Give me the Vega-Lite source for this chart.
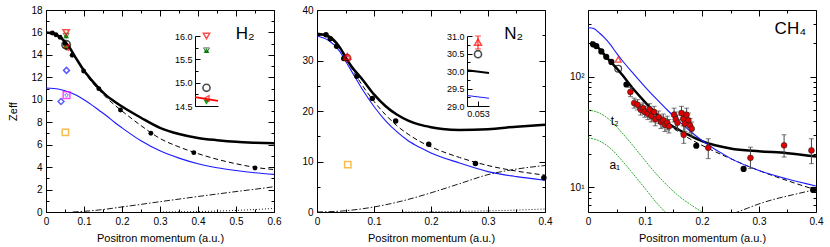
{
"$schema": "https://vega.github.io/schema/vega-lite/v6.json",
"padding": {"left": 7, "top": 4, "right": 5, "bottom": 2},
"bounds": "flush",
"spacing": 43,
"resolve": {"scale": {"x": "independent", "y": "independent"}},
"config": {
  "view": {"stroke": "black", "strokeWidth": 1},
  "font": "Liberation Sans",
  "axis": {"domain": false, "grid": false, "labelFont": "Liberation Sans", "labelFontSize": 10, "labelColor": "black", "tickColor": "black", "tickWidth": 1, "titleFont": "Liberation Sans", "titleFontSize": 11, "titleFontWeight": "normal", "titleColor": "black", "labelFlush": false, "labelOverlap": false, "labelBound": false}
},
"datasets": {
"h2": [
{"s":"thick","x":0,"y":16.0},{"s":"thick","x":0.02,"y":15.9},{"s":"thick","x":0.04,"y":15.5},{"s":"thick","x":0.06,"y":14.75},{"s":"thick","x":0.08,"y":13.65},{"s":"thick","x":0.1,"y":12.6},{"s":"thick","x":0.12,"y":11.75},{"s":"thick","x":0.14,"y":11.0},{"s":"thick","x":0.16,"y":10.35},{"s":"thick","x":0.18,"y":9.85},{"s":"thick","x":0.2,"y":9.4},{"s":"thick","x":0.25,"y":8.4},{"s":"thick","x":0.3,"y":7.5},{"s":"thick","x":0.35,"y":6.95},{"s":"thick","x":0.4,"y":6.6},{"s":"thick","x":0.45,"y":6.4},{"s":"thick","x":0.5,"y":6.25},{"s":"thick","x":0.55,"y":6.17},{"s":"thick","x":0.6,"y":6.12},
{"s":"dashed","x":0,"y":16.0},{"s":"dashed","x":0.02,"y":15.9},{"s":"dashed","x":0.04,"y":15.5},{"s":"dashed","x":0.06,"y":14.7},{"s":"dashed","x":0.08,"y":13.6},{"s":"dashed","x":0.1,"y":12.5},{"s":"dashed","x":0.12,"y":11.6},{"s":"dashed","x":0.14,"y":10.85},{"s":"dashed","x":0.16,"y":10.15},{"s":"dashed","x":0.18,"y":9.55},{"s":"dashed","x":0.2,"y":9.0},{"s":"dashed","x":0.25,"y":7.7},{"s":"dashed","x":0.3,"y":6.55},{"s":"dashed","x":0.35,"y":5.8},{"s":"dashed","x":0.4,"y":5.2},{"s":"dashed","x":0.45,"y":4.7},{"s":"dashed","x":0.5,"y":4.3},{"s":"dashed","x":0.55,"y":3.98},{"s":"dashed","x":0.6,"y":3.78},
{"s":"blue","x":0,"y":11.05},{"s":"blue","x":0.02,"y":11.0},{"s":"blue","x":0.04,"y":10.9},{"s":"blue","x":0.06,"y":10.7},{"s":"blue","x":0.08,"y":10.4},{"s":"blue","x":0.1,"y":10.0},{"s":"blue","x":0.12,"y":9.55},{"s":"blue","x":0.14,"y":9.05},{"s":"blue","x":0.16,"y":8.55},{"s":"blue","x":0.18,"y":8.0},{"s":"blue","x":0.2,"y":7.5},{"s":"blue","x":0.25,"y":6.35},{"s":"blue","x":0.3,"y":5.45},{"s":"blue","x":0.35,"y":4.8},{"s":"blue","x":0.4,"y":4.3},{"s":"blue","x":0.45,"y":3.95},{"s":"blue","x":0.5,"y":3.7},{"s":"blue","x":0.55,"y":3.5},{"s":"blue","x":0.6,"y":3.35},
{"s":"dd","x":0.07,"y":0},{"s":"dd","x":0.1,"y":0.06},{"s":"dd","x":0.15,"y":0.22},{"s":"dd","x":0.2,"y":0.45},{"s":"dd","x":0.25,"y":0.68},{"s":"dd","x":0.3,"y":0.92},{"s":"dd","x":0.35,"y":1.15},{"s":"dd","x":0.4,"y":1.38},{"s":"dd","x":0.45,"y":1.6},{"s":"dd","x":0.5,"y":1.82},{"s":"dd","x":0.55,"y":2.03},{"s":"dd","x":0.6,"y":2.25},
{"s":"dot","x":0.3,"y":0},{"s":"dot","x":0.4,"y":0.04},{"s":"dot","x":0.45,"y":0.08},{"s":"dot","x":0.5,"y":0.14},{"s":"dot","x":0.55,"y":0.22},{"s":"dot","x":0.6,"y":0.32},
{"s":"exp","x":0.0167,"y":15.95},{"s":"exp","x":0.026,"y":15.8},{"s":"exp","x":0.037,"y":15.57},{"s":"exp","x":0.05,"y":15.0},{"s":"exp","x":0.069,"y":13.97},{"s":"exp","x":0.099,"y":12.57},{"s":"exp","x":0.139,"y":10.99},{"s":"exp","x":0.196,"y":9.09},{"s":"exp","x":0.276,"y":7.02},{"s":"exp","x":0.389,"y":5.29},{"s":"exp","x":0.55,"y":3.92},
{"s":"circ","x":0.053,"y":14.9},
{"s":"rtri","x":0.053,"y":16.0},
{"s":"gstar","x":0.053,"y":15.7},
{"s":"gtri","x":0.053,"y":14.58},
{"s":"rtril","x":0.053,"y":14.66},
{"s":"diam","x":0.054,"y":12.62},{"s":"diam","x":0.0395,"y":9.85},
{"s":"mag","x":0.054,"y":10.42},
{"s":"orange","x":0.051,"y":7.1},
{"s":"label","x":0.524,"y":15.9,"t":"H₂"},
{"s":"i_red","x":0.050,"y":14.69},{"s":"i_red","x":0.056,"y":14.61},
{"s":"i_rtri","x":0.053,"y":16.0},
{"s":"i_gstar","x":0.053,"y":15.69},
{"s":"i_circ","x":0.053,"y":14.89},
{"s":"i_rtril","x":0.053,"y":14.66},
{"s":"i_gtri","x":0.053,"y":14.58}
],
"n2": [
{"s":"thick","x":0,"y":35.3},{"s":"thick","x":0.02,"y":34.8},{"s":"thick","x":0.04,"y":32.6},{"s":"thick","x":0.05,"y":30.7},{"s":"thick","x":0.06,"y":28.9},{"s":"thick","x":0.08,"y":26.2},{"s":"thick","x":0.1,"y":23.3},{"s":"thick","x":0.12,"y":21.0},{"s":"thick","x":0.14,"y":19.3},{"s":"thick","x":0.16,"y":18.1},{"s":"thick","x":0.18,"y":17.3},{"s":"thick","x":0.2,"y":16.8},{"s":"thick","x":0.22,"y":16.45},{"s":"thick","x":0.25,"y":16.25},{"s":"thick","x":0.3,"y":16.4},{"s":"thick","x":0.35,"y":16.9},{"s":"thick","x":0.4,"y":17.3},
{"s":"dashed","x":0,"y":35.2},{"s":"dashed","x":0.02,"y":34.6},{"s":"dashed","x":0.04,"y":32.4},{"s":"dashed","x":0.05,"y":30.5},{"s":"dashed","x":0.06,"y":28.6},{"s":"dashed","x":0.08,"y":25.0},{"s":"dashed","x":0.1,"y":21.9},{"s":"dashed","x":0.12,"y":19.3},{"s":"dashed","x":0.14,"y":17.1},{"s":"dashed","x":0.16,"y":15.4},{"s":"dashed","x":0.18,"y":14.0},{"s":"dashed","x":0.2,"y":12.9},{"s":"dashed","x":0.25,"y":10.8},{"s":"dashed","x":0.3,"y":9.2},{"s":"dashed","x":0.35,"y":8.1},{"s":"dashed","x":0.4,"y":7.3},
{"s":"blue","x":0,"y":34.8},{"s":"blue","x":0.02,"y":34.0},{"s":"blue","x":0.04,"y":31.8},{"s":"blue","x":0.05,"y":29.9},{"s":"blue","x":0.06,"y":28.0},{"s":"blue","x":0.08,"y":24.2},{"s":"blue","x":0.1,"y":20.9},{"s":"blue","x":0.12,"y":18.1},{"s":"blue","x":0.14,"y":15.9},{"s":"blue","x":0.16,"y":14.1},{"s":"blue","x":0.18,"y":12.8},{"s":"blue","x":0.2,"y":11.7},{"s":"blue","x":0.25,"y":9.7},{"s":"blue","x":0.3,"y":8.0},{"s":"blue","x":0.35,"y":7.0},{"s":"blue","x":0.4,"y":6.3},
{"s":"dd","x":0,"y":0},{"s":"dd","x":0.05,"y":0.25},{"s":"dd","x":0.1,"y":1.0},{"s":"dd","x":0.15,"y":2.2},{"s":"dd","x":0.2,"y":3.8},{"s":"dd","x":0.25,"y":5.6},{"s":"dd","x":0.3,"y":7.4},{"s":"dd","x":0.35,"y":8.5},{"s":"dd","x":0.4,"y":9.2},
{"s":"dot","x":0.15,"y":0},{"s":"dot","x":0.2,"y":0.05},{"s":"dot","x":0.25,"y":0.12},{"s":"dot","x":0.3,"y":0.22},{"s":"dot","x":0.35,"y":0.38},{"s":"dot","x":0.4,"y":0.6},
{"s":"exp","x":0.0158,"y":35.1},{"s":"exp","x":0.0234,"y":34.3},{"s":"exp","x":0.0345,"y":32.8},{"s":"exp","x":0.047,"y":30.4},{"s":"exp","x":0.07,"y":26.9},{"s":"exp","x":0.097,"y":22.5},{"s":"exp","x":0.138,"y":18.0},{"s":"exp","x":0.196,"y":13.4},{"s":"exp","x":0.278,"y":9.6},{"s":"exp","x":0.398,"y":6.8},
{"s":"circ","x":0.053,"y":30.5},
{"s":"rtri","x":0.053,"y":30.8,"lo":30.63,"hi":31.0},
{"s":"orange","x":0.054,"y":9.37},
{"s":"label","x":0.345,"y":35.2,"t":"N₂"},
{"s":"i_thick","x":0.050,"y":30.02},{"s":"i_thick","x":0.056,"y":29.94},
{"s":"i_blue","x":0.050,"y":29.30},{"s":"i_blue","x":0.056,"y":29.22},
{"s":"i_rtri","x":0.053,"y":30.82,"lo":30.63,"hi":31.0},
{"s":"i_circ","x":0.053,"y":30.48}
],
"ch4": [
{"s":"thick","x":0.005,"y":205},{"s":"thick","x":0.01,"y":198},{"s":"thick","x":0.02,"y":178},{"s":"thick","x":0.03,"y":155},{"s":"thick","x":0.04,"y":136},{"s":"thick","x":0.053,"y":115},{"s":"thick","x":0.06,"y":104},{"s":"thick","x":0.08,"y":77},{"s":"thick","x":0.1,"y":59},{"s":"thick","x":0.12,"y":46},{"s":"thick","x":0.14,"y":38},{"s":"thick","x":0.16,"y":33},{"s":"thick","x":0.18,"y":29.2},{"s":"thick","x":0.2,"y":26.2},{"s":"thick","x":0.25,"y":22.5},{"s":"thick","x":0.3,"y":21.2},{"s":"thick","x":0.35,"y":20.4},{"s":"thick","x":0.4,"y":19.0},
{"s":"dashed","x":0.005,"y":205},{"s":"dashed","x":0.02,"y":178},{"s":"dashed","x":0.04,"y":136},{"s":"dashed","x":0.06,"y":104},{"s":"dashed","x":0.08,"y":77},{"s":"dashed","x":0.1,"y":59},{"s":"dashed","x":0.12,"y":46},{"s":"dashed","x":0.14,"y":37.5},{"s":"dashed","x":0.16,"y":31.5},{"s":"dashed","x":0.18,"y":27.2},{"s":"dashed","x":0.2,"y":24.0},{"s":"dashed","x":0.25,"y":18.2},{"s":"dashed","x":0.3,"y":14.2},{"s":"dashed","x":0.35,"y":11.5},{"s":"dashed","x":0.4,"y":9.5},
{"s":"blue","x":0,"y":277},{"s":"blue","x":0.01,"y":272},{"s":"blue","x":0.02,"y":248},{"s":"blue","x":0.03,"y":222},{"s":"blue","x":0.04,"y":193},{"s":"blue","x":0.05,"y":163},{"s":"blue","x":0.06,"y":140},{"s":"blue","x":0.08,"y":106},{"s":"blue","x":0.1,"y":81},{"s":"blue","x":0.12,"y":63},{"s":"blue","x":0.14,"y":49.5},{"s":"blue","x":0.16,"y":39.5},{"s":"blue","x":0.18,"y":32},{"s":"blue","x":0.2,"y":26.5},{"s":"blue","x":0.25,"y":18.3},{"s":"blue","x":0.3,"y":14.2},{"s":"blue","x":0.35,"y":11.9},{"s":"blue","x":0.4,"y":10.3},
{"s":"t2","x":0,"y":50},{"s":"t2","x":0.02,"y":47},{"s":"t2","x":0.04,"y":40},{"s":"t2","x":0.06,"y":31},{"s":"t2","x":0.08,"y":23.5},{"s":"t2","x":0.1,"y":17.5},{"s":"t2","x":0.12,"y":13.2},{"s":"t2","x":0.14,"y":10.3},{"s":"t2","x":0.16,"y":8.3},{"s":"t2","x":0.18,"y":7.0},{"s":"t2","x":0.2,"y":6.0},{"s":"t2","x":0.21,"y":5.6},
{"s":"a1","x":0,"y":28},{"s":"a1","x":0.02,"y":26.3},{"s":"a1","x":0.04,"y":22.4},{"s":"a1","x":0.06,"y":17.4},{"s":"a1","x":0.08,"y":13.1},{"s":"a1","x":0.1,"y":9.8},{"s":"a1","x":0.12,"y":7.3},{"s":"a1","x":0.13,"y":6.4},{"s":"a1","x":0.14,"y":5.7},
{"s":"dd","x":0.255,"y":5.8},{"s":"dd","x":0.28,"y":6.5},{"s":"dd","x":0.3,"y":7.1},{"s":"dd","x":0.33,"y":7.9},{"s":"dd","x":0.36,"y":8.6},{"s":"dd","x":0.4,"y":9.6},
{"s":"exp","x":0.0088,"y":196},{"s":"exp","x":0.0146,"y":189},{"s":"exp","x":0.0234,"y":169},{"s":"exp","x":0.032,"y":151},{"s":"exp","x":0.041,"y":136},{"s":"exp","x":0.0674,"y":85},{"s":"exp","x":0.19,"y":23.8},{"s":"exp","x":0.273,"y":14.7},{"s":"exp","x":0.395,"y":9.5},
{"s":"circ","x":0.053,"y":118},
{"s":"rtri","x":0.053,"y":143},
{"s":"red","x":0.0744,"y":72.8,"lo":66,"hi":80},{"s":"red","x":0.081,"y":57.8,"lo":52,"hi":64},{"s":"red","x":0.087,"y":55.8,"lo":50,"hi":62},{"s":"red","x":0.0926,"y":50.3,"lo":45,"hi":56},{"s":"red","x":0.0966,"y":52,"lo":47,"hi":58},{"s":"red","x":0.0996,"y":48,"lo":43,"hi":54},{"s":"red","x":0.105,"y":46.3,"lo":41,"hi":52},{"s":"red","x":0.108,"y":50.7,"lo":45,"hi":57},{"s":"red","x":0.111,"y":44.1,"lo":39,"hi":50},{"s":"red","x":0.116,"y":48,"lo":42,"hi":54},{"s":"red","x":0.118,"y":41.2,"lo":36,"hi":47},{"s":"red","x":0.124,"y":43.2,"lo":38,"hi":49},{"s":"red","x":0.128,"y":38.9,"lo":34,"hi":44},{"s":"red","x":0.132,"y":40.4,"lo":35,"hi":46},{"s":"red","x":0.135,"y":36.8,"lo":32,"hi":42},{"s":"red","x":0.139,"y":38.4,"lo":33,"hi":44},{"s":"red","x":0.142,"y":35.6,"lo":31,"hi":41},{"s":"red","x":0.151,"y":45.3,"lo":39,"hi":52},{"s":"red","x":0.154,"y":41.2,"lo":35,"hi":48},{"s":"red","x":0.157,"y":38.4,"lo":33,"hi":45},{"s":"red","x":0.164,"y":47,"lo":41,"hi":54},{"s":"red","x":0.167,"y":41.7,"lo":36,"hi":48},{"s":"red","x":0.17,"y":37.6,"lo":32,"hi":44},{"s":"red","x":0.173,"y":45.3,"lo":39,"hi":52},{"s":"red","x":0.176,"y":40.4,"lo":35,"hi":47},{"s":"red","x":0.179,"y":36.3,"lo":31,"hi":42},{"s":"red","x":0.182,"y":33.9,"lo":29,"hi":39},{"s":"red","x":0.168,"y":29.9,"lo":25,"hi":36},{"s":"red","x":0.211,"y":22.8,"lo":18.2,"hi":27.5},{"s":"red","x":0.285,"y":18.5,"lo":14.8,"hi":23.1},{"s":"red","x":0.344,"y":24,"lo":18.8,"hi":29.9},{"s":"red","x":0.392,"y":21.6,"lo":16.4,"hi":27.5},
{"s":"label","x":0.355,"y":270,"t":"CH₄"},
{"s":"small","x":0.047,"y":40,"t":"t₂"},{"s":"small","x":0.047,"y":15.8,"t":"a₁"}
]
},
"hconcat": [
{
 "width": 228, "height": 202,
 "data": {"name": "h2"},
 "resolve": {"scale": {"x": "independent", "y": "independent"}},
 "layer": [
  {
   "resolve": {"axis": {"x": "independent", "y": "independent"}},
   "encoding": {
     "x": {"field": "x", "type": "quantitative", "scale": {"domain": [0, 0.6], "nice": false, "zero": false}, "axis": null},
     "y": {"field": "y", "type": "quantitative", "scale": {"domain": [0, 18], "nice": false, "zero": false}, "axis": null}
   },
   "layer": [
    {"transform": [{"filter": "datum.s=='thick'"}], "mark": {"type": "line", "color": "black", "strokeWidth": 2.5, "interpolate": "monotone", "clip": true},
     "encoding": {
       "x": {"field": "x", "type": "quantitative", "scale": {"domain": [0, 0.6], "nice": false, "zero": false},
             "axis": {"orient": "bottom", "values": [0,0.05,0.1,0.15,0.2,0.25,0.3,0.35,0.4,0.45,0.5,0.55,0.6], "labelExpr": "abs(datum.value*10-round(datum.value*10))<0.001 ? format(datum.value,'~g') : ''", "tickSize": {"condition": {"test": "abs(datum.value*10-round(datum.value*10))<0.001", "value": -6}, "value": -3}, "labelPadding": 10, "title": "Positron momentum (a.u.)", "titlePadding": 3}},
       "y": {"field": "y", "type": "quantitative", "scale": {"domain": [0, 18], "nice": false, "zero": false},
             "axis": {"orient": "left", "values": [0,1,2,3,4,5,6,7,8,9,10,11,12,13,14,15,16,17,18], "labelExpr": "datum.value%2==0 ? format(datum.value,'d') : ''", "tickSize": {"condition": {"test": "datum.value%2==0", "value": -6}, "value": -3}, "labelPadding": 10, "title": "Zeff", "titlePadding": 12}}
     }},
    {"transform": [{"filter": "datum.s=='dashed'"}], "mark": {"type": "line", "color": "black", "strokeWidth": 1, "strokeDash": [5, 3], "interpolate": "monotone", "clip": true},
     "encoding": {
       "x": {"field": "x", "type": "quantitative", "scale": {"domain": [0, 0.6], "nice": false, "zero": false},
             "axis": {"orient": "top", "values": [0,0.05,0.1,0.15,0.2,0.25,0.3,0.35,0.4,0.45,0.5,0.55,0.6], "labels": false, "tickSize": {"condition": {"test": "abs(datum.value*10-round(datum.value*10))<0.001", "value": -6}, "value": -3}, "title": null}},
       "y": {"field": "y", "type": "quantitative", "scale": {"domain": [0, 18], "nice": false, "zero": false},
             "axis": {"orient": "right", "values": [0,1,2,3,4,5,6,7,8,9,10,11,12,13,14,15,16,17,18], "labels": false, "tickSize": {"condition": {"test": "datum.value%2==0", "value": -6}, "value": -3}, "title": null}}
     }},
    {"transform": [{"filter": "datum.s=='blue'"}], "mark": {"type": "line", "color": "#1a1aff", "strokeWidth": 1.1, "interpolate": "monotone", "clip": true}},
    {"transform": [{"filter": "datum.s=='dd'"}], "mark": {"type": "line", "color": "black", "strokeWidth": 0.9, "strokeDash": [6, 2, 1.5, 2], "interpolate": "monotone", "clip": true}},
    {"transform": [{"filter": "datum.s=='dot'"}], "mark": {"type": "line", "color": "black", "strokeWidth": 0.9, "strokeDash": [1, 2], "interpolate": "monotone", "clip": true}},
    {"transform": [{"filter": "datum.s=='diam'"}], "mark": {"type": "point", "shape": "diamond", "filled": false, "color": "#1a1aff", "strokeWidth": 1.5, "size": 35}},
    {"transform": [{"filter": "datum.s=='mag'"}], "mark": {"type": "point", "shape": "square", "filled": false, "color": "#ff00ff", "strokeWidth": 1.5, "size": 45}},
    {"transform": [{"filter": "datum.s=='mag'"}], "mark": {"type": "point", "shape": "diamond", "filled": false, "color": "#1a1aff", "strokeWidth": 1, "size": 14}},
    {"transform": [{"filter": "datum.s=='orange'"}], "mark": {"type": "point", "shape": "square", "filled": false, "color": "#f5a000", "strokeWidth": 1.5, "size": 40}},
    {"transform": [{"filter": "datum.s=='exp'"}], "mark": {"type": "circle", "color": "black", "opacity": 1, "size": 24}},
    {"transform": [{"filter": "datum.s=='gtri'"}], "mark": {"type": "point", "shape": "triangle-down", "filled": true, "color": "#1a9a1a", "opacity": 1, "size": 35}},
    {"transform": [{"filter": "datum.s=='rtril'"}], "mark": {"type": "point", "shape": "triangle-left", "filled": false, "color": "red", "strokeWidth": 1.3, "size": 35}},
    {"transform": [{"filter": "datum.s=='circ'"}], "mark": {"type": "point", "shape": "circle", "filled": false, "color": "black", "strokeWidth": 1.6, "size": 70}},
    {"transform": [{"filter": "datum.s=='gstar'"}], "mark": {"type": "point", "shape": "triangle-up", "filled": true, "color": "#1a9a1a", "opacity": 1, "size": 35}},
    {"transform": [{"filter": "datum.s=='gstar'"}], "mark": {"type": "point", "shape": "triangle-down", "filled": false, "color": "#0a5a0a", "strokeWidth": 1, "size": 35}},
    {"transform": [{"filter": "datum.s=='rtri'"}], "mark": {"type": "point", "shape": "triangle-down", "filled": false, "color": "red", "strokeWidth": 1.5, "size": 40}},
    {"transform": [{"filter": "datum.s=='label'"}], "mark": {"type": "text", "font": "Liberation Sans", "fontSize": 17, "color": "black", "align": "center", "baseline": "middle"}, "encoding": {"text": {"field": "t"}}}
   ]
  },
  {
   "resolve": {"axis": {"x": "independent", "y": "independent"}},
   "encoding": {
     "x": {"field": "x", "type": "quantitative", "scale": {"domain": [0.05, 0.056], "range": [149, 172], "nice": false, "zero": false}, "axis": null},
     "y": {"field": "y", "type": "quantitative", "scale": {"domain": [14.5, 16.0], "range": [96, 26], "nice": false, "zero": false}, "axis": null}
   },
   "layer": [
    {"transform": [{"filter": "datum.s=='i_red'"}], "mark": {"type": "line", "color": "red", "strokeWidth": 1.6},
     "encoding": {
       "x": {"field": "x", "type": "quantitative", "scale": {"domain": [0.05, 0.056], "range": [149, 172], "nice": false, "zero": false},
             "axis": {"orient": "bottom", "offset": -106, "domain": true, "domainColor": "black", "domainWidth": 1, "ticks": false, "labels": false, "title": null}},
       "y": {"field": "y", "type": "quantitative", "scale": {"domain": [14.5, 16.0], "range": [96, 26], "nice": false, "zero": false},
             "axis": {"orient": "left", "offset": -149, "domain": true, "domainColor": "black", "domainWidth": 1, "values": [14.5,14.75,15,15.25,15.5,15.75,16], "labelExpr": "datum.value*2==round(datum.value*2) ? format(datum.value,'.1f') : ''", "tickSize": {"condition": {"test": "datum.value*2==round(datum.value*2)", "value": -5}, "value": -3}, "labelPadding": 8, "labelFontSize": 9, "title": null}}
     }},
    {"transform": [{"filter": "datum.s=='i_gtri'"}], "mark": {"type": "point", "shape": "triangle-down", "filled": true, "color": "#1a9a1a", "opacity": 1, "size": 35}},
    {"transform": [{"filter": "datum.s=='i_rtril'"}], "mark": {"type": "point", "shape": "triangle-left", "filled": false, "color": "red", "strokeWidth": 1.3, "size": 35}},
    {"transform": [{"filter": "datum.s=='i_circ'"}], "mark": {"type": "point", "shape": "circle", "filled": false, "color": "black", "strokeWidth": 1.6, "size": 50}},
    {"transform": [{"filter": "datum.s=='i_gstar'"}], "mark": {"type": "point", "shape": "triangle-up", "filled": true, "color": "#1a9a1a", "opacity": 1, "size": 35}},
    {"transform": [{"filter": "datum.s=='i_gstar'"}], "mark": {"type": "point", "shape": "triangle-down", "filled": false, "color": "#0a3a0a", "strokeWidth": 1, "size": 35}},
    {"transform": [{"filter": "datum.s=='i_rtri'"}], "mark": {"type": "point", "shape": "triangle-down", "filled": false, "color": "red", "strokeWidth": 1.5, "size": 40}}
   ]
  }
 ]
},
{
 "width": 228, "height": 202,
 "data": {"name": "n2"},
 "resolve": {"scale": {"x": "independent", "y": "independent"}},
 "layer": [
  {
   "resolve": {"axis": {"x": "independent", "y": "independent"}},
   "encoding": {
     "x": {"field": "x", "type": "quantitative", "scale": {"domain": [0, 0.4], "nice": false, "zero": false}, "axis": null},
     "y": {"field": "y", "type": "quantitative", "scale": {"domain": [0, 40], "nice": false, "zero": false}, "axis": null}
   },
   "layer": [
    {"transform": [{"filter": "datum.s=='thick'"}], "mark": {"type": "line", "color": "black", "strokeWidth": 2.5, "interpolate": "monotone", "clip": true},
     "encoding": {
       "x": {"field": "x", "type": "quantitative", "scale": {"domain": [0, 0.4], "nice": false, "zero": false},
             "axis": {"orient": "bottom", "values": [0,0.05,0.1,0.15,0.2,0.25,0.3,0.35,0.4], "labelExpr": "abs(datum.value*10-round(datum.value*10))<0.001 ? format(datum.value,'~g') : ''", "tickSize": {"condition": {"test": "abs(datum.value*10-round(datum.value*10))<0.001", "value": -6}, "value": -3}, "labelPadding": 10, "title": "Positron momentum (a.u.)", "titlePadding": 3}},
       "y": {"field": "y", "type": "quantitative", "scale": {"domain": [0, 40], "nice": false, "zero": false},
             "axis": {"orient": "left", "values": [0,5,10,15,20,25,30,35,40], "labelExpr": "datum.value%10==0 ? format(datum.value,'d') : ''", "tickSize": {"condition": {"test": "datum.value%10==0", "value": -6}, "value": -3}, "labelPadding": 10, "title": null}}
     }},
    {"transform": [{"filter": "datum.s=='dashed'"}], "mark": {"type": "line", "color": "black", "strokeWidth": 1, "strokeDash": [5, 3], "interpolate": "monotone", "clip": true},
     "encoding": {
       "x": {"field": "x", "type": "quantitative", "scale": {"domain": [0, 0.4], "nice": false, "zero": false},
             "axis": {"orient": "top", "values": [0,0.05,0.1,0.15,0.2,0.25,0.3,0.35,0.4], "labels": false, "tickSize": {"condition": {"test": "abs(datum.value*10-round(datum.value*10))<0.001", "value": -6}, "value": -3}, "title": null}},
       "y": {"field": "y", "type": "quantitative", "scale": {"domain": [0, 40], "nice": false, "zero": false},
             "axis": {"orient": "right", "values": [0,5,10,15,20,25,30,35,40], "labels": false, "tickSize": {"condition": {"test": "datum.value%10==0", "value": -6}, "value": -3}, "title": null}}
     }},
    {"transform": [{"filter": "datum.s=='blue'"}], "mark": {"type": "line", "color": "#1a1aff", "strokeWidth": 1.1, "interpolate": "monotone", "clip": true}},
    {"transform": [{"filter": "datum.s=='dd'"}], "mark": {"type": "line", "color": "black", "strokeWidth": 0.9, "strokeDash": [6, 2, 1.5, 2], "interpolate": "monotone", "clip": true}},
    {"transform": [{"filter": "datum.s=='dot'"}], "mark": {"type": "line", "color": "black", "strokeWidth": 0.9, "strokeDash": [1, 2], "interpolate": "monotone", "clip": true}},
    {"transform": [{"filter": "datum.s=='orange'"}], "mark": {"type": "point", "shape": "square", "filled": false, "color": "#f5a000", "strokeWidth": 1.5, "size": 40}},
    {"transform": [{"filter": "datum.s=='exp'"}], "mark": {"type": "circle", "color": "black", "opacity": 1, "size": 30}},
    {"transform": [{"filter": "datum.s=='rtri'"}], "mark": {"type": "rule", "color": "red", "strokeWidth": 1}, "encoding": {"y": {"field": "lo", "type": "quantitative"}, "y2": {"field": "hi"}}},
    {"transform": [{"filter": "datum.s=='rtri'"}], "mark": {"type": "point", "shape": "triangle-up", "filled": false, "color": "red", "strokeWidth": 1.5, "size": 45}},
    {"transform": [{"filter": "datum.s=='circ'"}], "mark": {"type": "point", "shape": "circle", "filled": false, "color": "#b00000", "strokeWidth": 1.6, "size": 50}},
    {"transform": [{"filter": "datum.s=='label'"}], "mark": {"type": "text", "font": "Liberation Sans", "fontSize": 17, "color": "black", "align": "center", "baseline": "middle"}, "encoding": {"text": {"field": "t"}}}
   ]
  },
  {
   "resolve": {"axis": {"x": "independent", "y": "independent"}},
   "encoding": {
     "x": {"field": "x", "type": "quantitative", "scale": {"domain": [0.05, 0.056], "range": [150, 172], "nice": false, "zero": false}, "axis": null},
     "y": {"field": "y", "type": "quantitative", "scale": {"domain": [29, 31], "range": [96, 26], "nice": false, "zero": false}, "axis": null}
   },
   "layer": [
    {"transform": [{"filter": "datum.s=='i_thick'"}], "mark": {"type": "line", "color": "black", "strokeWidth": 2},
     "encoding": {
       "x": {"field": "x", "type": "quantitative", "scale": {"domain": [0.05, 0.056], "range": [150, 172], "nice": false, "zero": false},
             "axis": {"orient": "bottom", "offset": -106, "domain": true, "domainColor": "black", "domainWidth": 1, "values": [0.053], "format": ".3f", "tickSize": -5, "labelPadding": 8, "labelFontSize": 9, "title": null}},
       "y": {"field": "y", "type": "quantitative", "scale": {"domain": [29, 31], "range": [96, 26], "nice": false, "zero": false},
             "axis": {"orient": "left", "offset": -150, "domain": true, "domainColor": "black", "domainWidth": 1, "values": [29,29.25,29.5,29.75,30,30.25,30.5,30.75,31], "labelExpr": "datum.value*2==round(datum.value*2) ? format(datum.value,'.1f') : ''", "tickSize": {"condition": {"test": "datum.value*2==round(datum.value*2)", "value": -5}, "value": -3}, "labelPadding": 8, "labelFontSize": 9, "title": null}}
     }},
    {"transform": [{"filter": "datum.s=='i_blue'"}], "mark": {"type": "line", "color": "#1a1aff", "strokeWidth": 1.1}},
    {"transform": [{"filter": "datum.s=='i_rtri'"}], "mark": {"type": "rule", "color": "red", "strokeWidth": 1}, "encoding": {"y": {"field": "lo", "type": "quantitative", "scale": {"domain": [29, 31], "range": [96, 26], "nice": false, "zero": false}, "axis": null}, "y2": {"field": "hi"}}},
    {"transform": [{"filter": "datum.s=='i_rtri'"}], "mark": {"type": "tick", "orient": "horizontal", "color": "red", "thickness": 1, "size": 6}, "encoding": {"y": {"field": "lo", "type": "quantitative", "scale": {"domain": [29, 31], "range": [96, 26], "nice": false, "zero": false}, "axis": null}}},
    {"transform": [{"filter": "datum.s=='i_rtri'"}], "mark": {"type": "tick", "orient": "horizontal", "color": "red", "thickness": 1, "size": 6}, "encoding": {"y": {"field": "hi", "type": "quantitative", "scale": {"domain": [29, 31], "range": [96, 26], "nice": false, "zero": false}, "axis": null}}},
    {"transform": [{"filter": "datum.s=='i_rtri'"}], "mark": {"type": "point", "shape": "triangle-up", "filled": false, "color": "red", "strokeWidth": 1.5, "size": 50}},
    {"transform": [{"filter": "datum.s=='i_circ'"}], "mark": {"type": "point", "shape": "circle", "filled": false, "color": "black", "strokeWidth": 1.6, "size": 50}}
   ]
  }
 ]
},
{
 "width": 228, "height": 202,
 "data": {"name": "ch4"},
 "resolve": {"axis": {"x": "independent", "y": "independent"}},
 "encoding": {
   "x": {"field": "x", "type": "quantitative", "scale": {"domain": [0, 0.4], "nice": false, "zero": false}, "axis": null},
   "y": {"field": "y", "type": "quantitative", "scale": {"type": "log", "domain": [6, 400], "nice": false}, "axis": null}
 },
 "layer": [
    {"transform": [{"filter": "datum.s=='thick'"}], "mark": {"type": "line", "color": "black", "strokeWidth": 2.5, "interpolate": "monotone", "clip": true},
     "encoding": {
       "x": {"field": "x", "type": "quantitative", "scale": {"domain": [0, 0.4], "nice": false, "zero": false},
             "axis": {"orient": "bottom", "values": [0,0.05,0.1,0.15,0.2,0.25,0.3,0.35,0.4], "labelExpr": "abs(datum.value*10-round(datum.value*10))<0.001 ? format(datum.value,'~g') : ''", "tickSize": {"condition": {"test": "abs(datum.value*10-round(datum.value*10))<0.001", "value": -6}, "value": -3}, "labelPadding": 10, "title": "Positron momentum (a.u.)", "titlePadding": 3}},
       "y": {"field": "y", "type": "quantitative", "scale": {"type": "log", "domain": [6, 400], "nice": false},
             "axis": {"orient": "left", "values": [7,8,9,10,20,30,40,50,60,70,80,90,100,200,300], "labelExpr": "datum.value==10 ? '10¹' : datum.value==100 ? '10²' : ''", "tickSize": {"condition": {"test": "datum.value==10||datum.value==100", "value": -6}, "value": -3}, "labelPadding": 10, "title": null}}
     }},
    {"transform": [{"filter": "datum.s=='dashed'"}], "mark": {"type": "line", "color": "black", "strokeWidth": 1, "strokeDash": [5, 3], "interpolate": "monotone", "clip": true},
     "encoding": {
       "x": {"field": "x", "type": "quantitative", "scale": {"domain": [0, 0.4], "nice": false, "zero": false},
             "axis": {"orient": "top", "values": [0,0.05,0.1,0.15,0.2,0.25,0.3,0.35,0.4], "labels": false, "tickSize": {"condition": {"test": "abs(datum.value*10-round(datum.value*10))<0.001", "value": -6}, "value": -3}, "title": null}},
       "y": {"field": "y", "type": "quantitative", "scale": {"type": "log", "domain": [6, 400], "nice": false},
             "axis": {"orient": "right", "values": [7,8,9,10,20,30,40,50,60,70,80,90,100,200,300], "labels": false, "tickSize": {"condition": {"test": "datum.value==10||datum.value==100", "value": -6}, "value": -3}, "title": null}}
     }},
    {"transform": [{"filter": "datum.s=='blue'"}], "mark": {"type": "line", "color": "#1a1aff", "strokeWidth": 1.1, "interpolate": "monotone", "clip": true}},
    {"transform": [{"filter": "datum.s=='t2'"}], "mark": {"type": "line", "color": "#33aa33", "strokeWidth": 1, "strokeDash": [2, 1], "interpolate": "monotone", "clip": true}},
    {"transform": [{"filter": "datum.s=='a1'"}], "mark": {"type": "line", "color": "#33aa33", "strokeWidth": 1, "strokeDash": [2, 1], "interpolate": "monotone", "clip": true}},
    {"transform": [{"filter": "datum.s=='dd'"}], "mark": {"type": "line", "color": "black", "strokeWidth": 0.9, "strokeDash": [6, 2, 1.5, 2], "interpolate": "monotone", "clip": true}},
    {"transform": [{"filter": "datum.s=='exp'"}], "mark": {"type": "circle", "color": "black", "opacity": 1, "size": 38, "clip": true}},
    {"transform": [{"filter": "datum.s=='red'"}], "mark": {"type": "rule", "color": "#444444", "strokeWidth": 1}, "encoding": {"y": {"field": "lo", "type": "quantitative"}, "y2": {"field": "hi"}}},
    {"transform": [{"filter": "datum.s=='red'"}], "mark": {"type": "tick", "orient": "horizontal", "color": "#444444", "thickness": 1, "size": 5}, "encoding": {"y": {"field": "lo", "type": "quantitative"}}},
    {"transform": [{"filter": "datum.s=='red'"}], "mark": {"type": "tick", "orient": "horizontal", "color": "#444444", "thickness": 1, "size": 5}, "encoding": {"y": {"field": "hi", "type": "quantitative"}}},
    {"transform": [{"filter": "datum.s=='red'"}], "mark": {"type": "point", "shape": "circle", "filled": true, "fill": "#e00000", "stroke": "#222222", "strokeWidth": 0.6, "opacity": 1, "size": 34}},
    {"transform": [{"filter": "datum.s=='circ'"}], "mark": {"type": "point", "shape": "circle", "filled": false, "color": "black", "strokeWidth": 1.3, "size": 45}},
    {"transform": [{"filter": "datum.s=='rtri'"}], "mark": {"type": "point", "shape": "triangle-up", "filled": false, "color": "red", "strokeWidth": 1.3, "size": 35}},
    {"transform": [{"filter": "datum.s=='label'"}], "mark": {"type": "text", "font": "Liberation Sans", "fontSize": 17, "color": "black", "align": "center", "baseline": "middle"}, "encoding": {"text": {"field": "t"}}},
    {"transform": [{"filter": "datum.s=='small'"}], "mark": {"type": "text", "font": "Liberation Sans", "fontSize": 12, "color": "black", "align": "center", "baseline": "middle"}, "encoding": {"text": {"field": "t"}}}
 ]
}
]
}
